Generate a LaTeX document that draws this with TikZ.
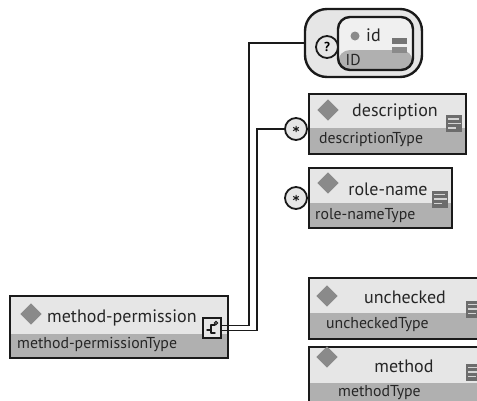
\documentclass[tikz,border=0pt]{standalone}
\usepackage{fontspec}
\setmainfont{PT Sans}
\definecolor{lightbg}{HTML}{E6E6E6}
\definecolor{darkbg}{HTML}{B0B0B0}
\definecolor{ink}{HTML}{1A1A1A}
\definecolor{gem}{HTML}{8A8A8A}
\definecolor{iconfill}{HTML}{6C6C6C}
\definecolor{iconline}{HTML}{D4D4D4}
\definecolor{txt}{HTML}{262626}

\tikzset{
  % element box: light upper band, darker type band of height #1
  elbox/.style={rectangle, draw=ink, line width=2.4pt, fill=lightbg,
    inner sep=0pt, anchor=north west,
    path picture={\fill[darkbg] (path picture bounding box.south west)
      rectangle ([yshift=#1]path picture bounding box.south east);}},
  gemnode/.style={rectangle, fill=gem, minimum size=15pt, inner sep=0pt, rotate=45},
  titletext/.style={inner sep=0pt, text=txt, font=\fontsize{18}{21}\selectfont},
  typetext/.style={inner sep=0pt, text=txt, anchor=west, font=\fontsize{15.8}{18}\selectfont},
  occ/.style={circle, draw=ink, line width=1.8pt, fill=lightbg, minimum size=22pt,
    inner sep=0pt, font=\fontsize{13}{15}\selectfont\bfseries},
  % "many" occurrence marker: circle with a drawn asterisk
  manyocc/.style={occ,
    path picture={
      \draw[ink, line width=1pt]
        ([shift={(0pt,3.2pt)}]path picture bounding box.center) -- ++(0pt,-6.4pt)
        ([shift={(-2.8pt,1.6pt)}]path picture bounding box.center) -- ++(5.6pt,-3.2pt)
        ([shift={(-2.8pt,-1.6pt)}]path picture bounding box.center) -- ++(5.6pt,3.2pt);}},
  docicon/.style={rectangle, fill=iconfill, minimum width=16pt, minimum height=17pt,
    inner sep=0pt,
    path picture={
      \draw[iconline, line width=1.1pt]
        ([shift={(2pt,-4pt)}]path picture bounding box.north west) -- ++(11pt,0pt)
        ([shift={(2pt,-8.5pt)}]path picture bounding box.north west) -- ++(13pt,0pt)
        ([shift={(2pt,-13pt)}]path picture bounding box.north west) -- ++(8pt,0pt);}},
  conn/.style={draw=ink, line width=1.9pt},
  compbox/.style={rectangle, draw=ink, line width=1.6pt, fill=lightbg,
    minimum width=18pt, minimum height=20pt, inner sep=0pt}
}

\begin{document}
\begin{tikzpicture}[x=1pt, y=-1pt]
\useasboundingbox (0,0) rectangle (477,400);
\clip (0,0) rectangle (477,400);

% ---- method-permission (root element) ----
\node[elbox=24pt, minimum width=218pt, minimum height=62pt] (mp) at (9,295) {};
\node[gemnode] (mpgem) at (31,314) {};
\node[titletext, anchor=west] (mptitle) at (47,318) {method-permission};
\node[typetext] (mptype) at (17,345) {method-permissionType};
\node[compbox] (comp) at (212,328) {};
% sequence compositor glyph
\draw[ink, line width=1.4pt, line cap=round, line join=round]
  ([shift={(-5pt,-2pt)}]comp.center) -- ([shift={(-1pt,-2pt)}]comp.center)
  ([shift={(3pt,-5pt)}]comp.center) -- ([shift={(-1pt,-5pt)}]comp.center)
    -- ([shift={(-1pt,3pt)}]comp.center) -- ([shift={(3pt,3pt)}]comp.center);
\draw[ink, line width=1pt] ([shift={(4pt,5pt)}]comp.center) circle (1.6pt);

% ---- id attribute inside its group ----
\node[draw=ink, line width=2.4pt, fill=lightbg, rounded corners=22pt,
      minimum width=117pt, minimum height=68pt, inner sep=0pt] (idg) at (363.5,43) {};
\node[draw=ink, line width=2.4pt, fill=lightbg!60!white, rounded corners=12pt,
      minimum width=75pt, minimum height=53pt, inner sep=0pt,
      path picture={\fill[darkbg] (path picture bounding box.south west)
        rectangle ([yshift=20pt]path picture bounding box.south east);}]
      (idattr) at (375.5,43.5) {};
\node[occ] (opt) at (327,47) {?};
\node[circle, fill=gem, minimum size=9pt, inner sep=0pt] (iddot) at (355,36) {};
\node[titletext, anchor=west] (idname) at (366,35) {id};
\node[typetext] (idtype) at (345.5,60) {ID};
\node[rectangle, fill=gem!85!black, minimum width=15pt, minimum height=6pt,
      inner sep=0pt] (idbar1) at (399.5,41) {};
\node[rectangle, fill=gem, minimum width=15pt, minimum height=6pt,
      inner sep=0pt] (idbar2) at (399.5,49.5) {};

% ---- description ----
\node[elbox=26pt, minimum width=157pt, minimum height=60pt] (desc) at (308,93) {};
\node[gemnode] (descgem) at (328,110) {};
\node[titletext] (desctitle) at (395,112) {description};
\node[typetext] (desctype) at (319,140) {descriptionType};
\node[docicon] (descicon) at (454,123.5) {};
\node[manyocc] (many1) at (296,129) {};

% ---- role-name ----
\node[elbox=25pt, minimum width=143pt, minimum height=60pt] (role) at (308,167) {};
\node[gemnode] (rolegem) at (328,183) {};
\node[titletext] (roletitle) at (388,189) {role-name};
\node[typetext] (roletype) at (315,216) {role-nameType};
\node[docicon] (roleicon) at (440,199) {};
\node[manyocc] (many2) at (296,198) {};

% ---- unchecked ----
\node[elbox=26pt, minimum width=185pt, minimum height=61pt] (unch) at (308,277) {};
\node[gemnode] (unchgem) at (327,296) {};
\node[titletext] (unchtitle) at (405,297) {unchecked};
\node[typetext] (unchtype) at (326,325) {uncheckedType};
\node[docicon] (unchicon) at (474,309) {};

% ---- method ----
\node[elbox=24pt, minimum width=185pt, minimum height=60pt] (meth) at (308,346) {};
\node[gemnode] (methgem) at (327,357) {};
\node[titletext] (methtitle) at (404,366) {method};
\node[typetext] (methtype) at (338,393) {methodType};
\node[docicon] (methicon) at (474,372) {};

% ---- connectors from the sequence compositor ----
\coordinate (j1) at (249,0);
\coordinate (j2) at (257,0);
\draw[conn] ([yshift=2.5pt]comp.east) -| (j1 |- idg.west) -- (idg.west);
\draw[conn] ([yshift=-2.5pt]comp.east) -| (j2 |- many1.west) -- (many1.west);
\end{tikzpicture}
\end{document}
